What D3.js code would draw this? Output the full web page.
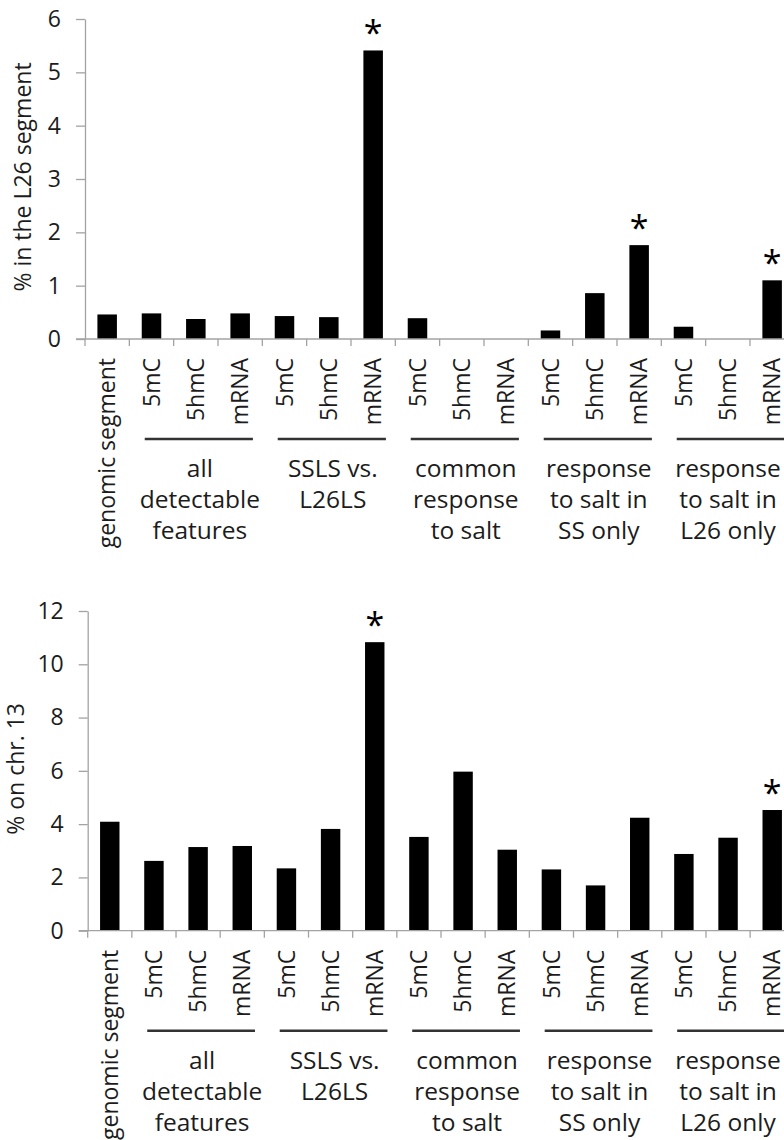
<!DOCTYPE html>
<html>
<head>
<meta charset="utf-8">
<script src="https://cdn.jsdelivr.net/npm/d3@7"></script>
<style>
  html, body { margin: 0; padding: 0; background: #fff; }
  svg { display: block; font-family: "Open Sans", sans-serif; }
</style>
</head>
<body>
<svg id="chart" width="784" height="1140"></svg>
<script>
// ---- data ----
const categoryIds = ["genomic", "all_5mC", "all_5hmC", "all_mRNA", "ssls_5mC", "ssls_5hmC", "ssls_mRNA",
  "common_5mC", "common_5hmC", "common_mRNA", "ss_5mC", "ss_5hmC", "ss_mRNA", "l26_5mC", "l26_5hmC", "l26_mRNA"];
const categoryLabels = ["genomic segment", "5mC", "5hmC", "mRNA", "5mC", "5hmC", "mRNA",
  "5mC", "5hmC", "mRNA", "5mC", "5hmC", "mRNA", "5mC", "5hmC", "mRNA"];
const groupLabels = [
  ["all", "detectable", "features"],
  ["SSLS vs.", "L26LS"],
  ["common", "response", "to salt"],
  ["response", "to salt in", "SS only"],
  ["response", "to salt in", "L26 only"]
];
const groupFirst = ["all_5mC", "ssls_5mC", "common_5mC", "ss_5mC", "l26_5mC"];
const groupLast = ["all_mRNA", "ssls_mRNA", "common_mRNA", "ss_mRNA", "l26_mRNA"];

const topValues = [0.46, 0.48, 0.375, 0.48, 0.43, 0.41, 5.41, 0.39, 0, 0, 0.16, 0.86, 1.76, 0.23, 0, 1.10];
const topTicks = [0, 1, 2, 3, 4, 5, 6];
const topStars = ["ssls_mRNA", "ss_mRNA", "l26_mRNA"];
const topTitle = "% in the L26 segment";

const bottomValues = [4.09, 2.62, 3.14, 3.18, 2.34, 3.82, 10.83, 3.52, 5.97, 3.04, 2.30, 1.70, 4.24, 2.88, 3.49, 4.53];
const bottomTicks = [0, 2, 4, 6, 8, 10, 12];
const bottomStars = ["ssls_mRNA", "l26_mRNA"];
const bottomTitle = "% on chr. 13";

// ---- drawing ----
const svg = d3.select("#chart");
const AXIS = "#a3a3a3";
const TEXT = "#1c1c1c";

function panel(opts) {
  const { values, ticks, stars, title, axisX, yTop, yZero, xEnd, titleX } = opts;
  const g = svg.append("g");
  const y = d3.scaleLinear().domain([0, d3.max(ticks)]).range([yZero, yTop]);
  const x = d3.scaleBand().domain(categoryIds).range([axisX, xEnd])
    .paddingInner(0.56).paddingOuter(0.28);
  const step = x.step();
  const edge = id => x(id) - x.paddingInner() * step / 2;

  // y axis
  const yAxis = d3.axisLeft(y).tickValues(ticks).tickFormat(d3.format("d"))
    .tickSize(9).tickPadding(15).tickSizeOuter(0);
  const ya = g.append("g").attr("transform", `translate(${axisX},0)`).call(yAxis);
  ya.select(".domain").attr("stroke", AXIS).attr("stroke-width", 1.3);
  ya.selectAll(".tick line").attr("stroke", AXIS).attr("stroke-width", 1.3);
  ya.selectAll(".tick text").attr("fill", TEXT).style("font-size", "23px")
    .style("font-family", "'Open Sans', sans-serif");

  // bars
  g.selectAll("rect.bar").data(values).join("rect")
    .attr("class", "bar")
    .attr("x", (d, i) => x(categoryIds[i]))
    .attr("width", x.bandwidth())
    .attr("y", d => y(d))
    .attr("height", d => yZero - y(d))
    .attr("fill", "#000");

  // x axis line + ticks at band edges
  g.append("line").attr("x1", axisX - 9).attr("x2", xEnd + 5)
    .attr("y1", yZero).attr("y2", yZero).attr("stroke", AXIS).attr("stroke-width", 1.3);
  const edges = categoryIds.map(edge).concat([xEnd]);
  g.selectAll("line.xt").data(edges).join("line")
    .attr("class", "xt")
    .attr("x1", d => d).attr("x2", d => d)
    .attr("y1", yZero).attr("y2", yZero + 7)
    .attr("stroke", AXIS).attr("stroke-width", 1.3);

  // rotated category labels
  g.selectAll("text.cat").data(categoryLabels).join("text")
    .attr("class", "cat")
    .attr("transform", (d, i) => `translate(${x(categoryIds[i]) + x.bandwidth() / 2 + 0.5},${yZero + 19}) rotate(-90)`)
    .attr("text-anchor", "end")
    .attr("dy", "0.33em")
    .attr("fill", TEXT)
    .style("font-size", "23px")
    .text(d => d);

  // group lines and labels
  groupLabels.forEach((lines, gi) => {
    const x1 = x(groupFirst[gi]) + 3;
    const x2 = x(groupLast[gi]) + x.bandwidth() + 3;
    g.append("line").attr("x1", x1).attr("x2", x2)
      .attr("y1", yZero + 100).attr("y2", yZero + 100)
      .attr("stroke", "#333").attr("stroke-width", 2.4);
    const t = g.append("text").attr("text-anchor", "middle").attr("fill", TEXT)
      .style("font-size", "24.5px");
    lines.forEach((ln, li) => {
      t.append("tspan").attr("x", Math.min((x1 + x2) / 2 + 1, 728)).attr("y", yZero + 138 + li * 31).text(ln);
    });
  });

  // significance stars
  g.selectAll("text.star").data(stars).join("text")
    .attr("class", "star")
    .attr("x", id => x(id) + x.bandwidth() / 2)
    .attr("y", id => y(values[categoryIds.indexOf(id)]) - 5)
    .attr("text-anchor", "middle")
    .attr("fill", "#000")
    .style("font-size", "34px")
    .text("*");

  // y title
  g.append("text")
    .attr("transform", `translate(${titleX},${(yTop + yZero) / 2 - 2}) rotate(-90)`)
    .attr("text-anchor", "middle")
    .attr("dy", "0.35em")
    .attr("fill", TEXT)
    .style("font-size", "23px")
    .text(title);
}

panel({ values: topValues, ticks: topTicks, stars: topStars, title: topTitle,
  axisX: 85, yTop: 19, yZero: 339, xEnd: 794.3, titleX: 23 });
panel({ values: bottomValues, ticks: bottomTicks, stars: bottomStars, title: bottomTitle,
  axisX: 87.7, yTop: 611, yZero: 930.7, xEnd: 794.3, titleX: 16 });
</script>
</body>
</html>
